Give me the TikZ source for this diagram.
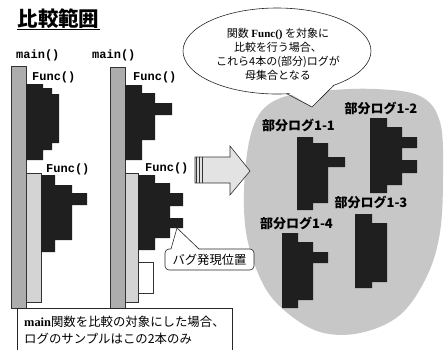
\documentclass[tikz,border=0pt]{standalone}
\usepackage{fontspec}
\setmainfont{Liberation Serif}
\newfontfamily\jp{Noto Sans CJK JP}
\newfontfamily\mono{Liberation Mono}
\begin{document}
\begin{tikzpicture}[x=1pt,y=-1pt,
  mainbar/.style={fill=gray!64, draw=black!80, line width=0.6pt},
  subbar/.style={fill=gray!34, draw=black!80, line width=0.6pt},
  blk/.style={fill=black!88, draw=none},
  plog/.style={fill=black!88, draw=none},
  fn/.style={font=\mono\bfseries\fontsize{12}{12}\selectfont, inner sep=0pt, anchor=west},
  plabel/.style={font=\jp\bfseries\fontsize{13}{13}\selectfont, inner sep=0pt},
  jtext/.style={font=\jp\fontsize{12.4}{16}\selectfont, inner sep=0pt, anchor=west}]
\useasboundingbox (0,0) rectangle (448,349);
\fill[white] (0,0) rectangle (448,349);

% title
\node[font=\jp\bfseries\fontsize{20.5}{20.5}\selectfont, inner sep=0pt] (title) at (58.5,18.5) {比較範囲};
\draw[line width=1.3pt] (title.south west |- 0,29.5) -- (title.south east |- 0,29.5);

% main() labels
\node[fn] (main1) at (16,55) {main()};
\node[fn] (main2) at (92,55) {main()};

% gray blob
\fill[gray!44] plot[smooth cycle, tension=0.6] coordinates {
 (255,122) (278,99) (322,91) (375,89) (420,96) (440,122) (443,175) (440,232)
 (427,276) (400,315) (360,333) (320,332) (285,311) (262,282) (246,232) (245,172)};

% left column
\draw[mainbar] (11,66) rectangle (26,308);
\draw[subbar] (26,173) rectangle (41,302);
\fill[blk] (26,84) -- (43,84) -- (43,88) -- (52,88) -- (52,94) -- (59,94) -- (59,143) -- (52,143) -- (52,150) -- (43,150) -- (43,160) -- (26,160) -- cycle;
\fill[blk] (41,175) -- (55,175) -- (55,185) -- (72,185) -- (72,193) -- (87,193) -- (87,205) -- (72,205) -- (72,240) -- (55,240) -- (55,252) -- (41,252) -- cycle;
\node[fn] (f1) at (32,77) {Func()};
\node[fn] (f2) at (46,169) {Func()};

% middle column
\draw[mainbar] (110,67) rectangle (125,308);
\draw[subbar] (125,173) rectangle (138,302);
\fill[blk] (125,85) -- (142,85) -- (142,93) -- (155,93) -- (155,103) -- (172,103) -- (172,115) -- (155,115) -- (155,140) -- (142,140) -- (142,160) -- (125,160) -- cycle;
\fill[blk] (138,175) -- (155,175) -- (155,183) -- (170,183) -- (170,193) -- (183,193) -- (183,206) -- (170,206) -- (170,218) -- (183,218) -- (183,228) -- (170,228) -- (170,238) -- (155,238) -- (155,250) -- (138,250) -- cycle;
\draw[fill=white, draw=black!80, line width=0.6pt] (138,262) rectangle (153,293);
\node[fn] (f3) at (133,77) {Func()};
\node[fn] (f4) at (145,168) {Func()};

% bug callout
\node[draw=black!85, line width=0.6pt, rounded corners=4pt, fill=white, minimum width=89pt, minimum height=21pt, inner sep=0pt,
  font=\jp\fontsize{12.3}{12}\selectfont] (bug) at (209.5,259.5) {バグ発現位置};
\coordinate (bugtip) at (177,228);
\fill[white] (170.5,250.5) -- (bugtip) -- (199.5,250.5) -- cycle;
\draw[black!85, line width=0.6pt] (171,249) -- (bugtip) -- (199,249);

% arrow
\draw[fill=gray!22, draw=black!80, line width=0.6pt] (195,157) -- (230,157) -- (230,146) -- (250,171) -- (230,195) -- (230,183) -- (195,183) -- cycle;
\foreach \xx in {196.5,199.5,202.5} \draw[line width=1.1pt, black!80] (\xx,157) -- (\xx,183);

% partial logs
\fill[plog] (297,137) -- (313,137) -- (313,143) -- (328,143) -- (328,157) -- (345,157) -- (345,167) -- (328,167) -- (328,203) -- (313,203) -- (313,210) -- (297,210) -- cycle;
\fill[plog] (370,118) -- (387,118) -- (387,127) -- (402,127) -- (402,137) -- (417,137) -- (417,148) -- (402,148) -- (402,160) -- (417,160) -- (417,173) -- (402,173) -- (402,185) -- (387,185) -- (387,193) -- (370,193) -- cycle;
\fill[plog] (355,214) -- (372,214) -- (372,223) -- (387,223) -- (387,282) -- (372,282) -- (372,288) -- (355,288) -- cycle;
\fill[plog] (282,233) -- (298,233) -- (298,242) -- (313,242) -- (313,252) -- (328,252) -- (328,263) -- (313,263) -- (313,300) -- (298,300) -- (298,308) -- (282,308) -- cycle;
\node[plabel] (p11) at (298.5,125) {部分ログ1-1};
\node[plabel] (p12) at (381,108) {部分ログ1-2};
\node[plabel] (p13) at (371,202) {部分ログ1-3};
\node[plabel] (p14) at (296.5,223) {部分ログ1-4};

% speech bubble
\draw[fill=white, draw=black!85, line width=0.6pt] (277,51) ellipse [x radius=94, y radius=43];
\coordinate (bubtip) at (312,107);
\fill[white] (286,91) -- (bubtip) -- (335,83) -- cycle;
\draw[black!85, line width=0.6pt] (287,93.8) -- (bubtip) -- (334,85.2);
\node[font=\jp\fontsize{11}{14}\selectfont, align=center, inner sep=0pt] (bubtext) at (278,54)
 {関数 {\rmfamily\bfseries Func()} を対象に\\比較を行う場合、\\これら4本の(部分)ログが\\母集合となる};

% bottom box
\draw[fill=white, draw=black!85, line width=0.6pt] (17,352) -- (17,308) -- (232,308) -- (232,352);
\node[jtext] (note1) at (24,322) {{\rmfamily\bfseries main}関数を比較の対象にした場合、};
\node[jtext] (note2) at (24,338.5) {ログのサンプルはこの2本のみ};
\end{tikzpicture}
\end{document}
